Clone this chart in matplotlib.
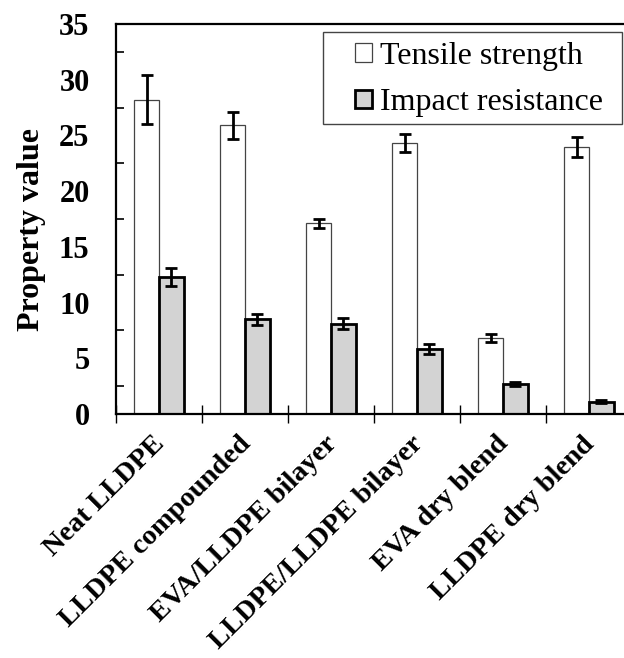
import numpy as np
import matplotlib
matplotlib.use("Agg")
import matplotlib.pyplot as plt
from matplotlib.ticker import FixedLocator, NullFormatter
from matplotlib.patches import Rectangle

plt.rcParams['font.family'] = ['Liberation Serif', 'DejaVu Serif']

samples = ["Neat LLDPE", "LLDPE compounded", "EVA/LLDPE bilayer",
           "LLDPE/LLDPE bilayer", "EVA dry blend", "LLDPE dry blend"]
tensile = [28.2, 25.9, 17.1, 24.3, 6.8, 24.0]
tensile_err = [2.2, 1.2, 0.4, 0.8, 0.35, 0.9]
impact = [12.3, 8.5, 8.1, 5.8, 2.7, 1.1]
impact_err = [0.8, 0.5, 0.5, 0.45, 0.15, 0.15]

x = np.arange(len(samples))
w = 0.29

W, H = 624, 658
fig = plt.figure(figsize=(W / 100, H / 100), dpi=100)
ax = fig.add_axes([116 / W, 1 - 414 / H, (632 - 116) / W, (414 - 24) / H])

err_kw = dict(ecolor='black', elinewidth=2.0, capsize=4, capthick=2.0)
ax.bar(x - w / 2, tensile, w, yerr=tensile_err, color='white',
       edgecolor='#444444', linewidth=0.9, error_kw=err_kw, label='Tensile strength')
ax.bar(x + w / 2, impact, w, yerr=impact_err, color='#d3d3d3',
       edgecolor='black', linewidth=2.0, error_kw=err_kw, label='Impact resistance')

ax.set_xlim(-0.5, len(samples) - 0.5)
ax.set_ylim(0, 35)

# y ticks: labels every 5, small inward marks halfway between
ax.set_yticks(np.arange(0, 36, 5))
ax.yaxis.set_minor_locator(FixedLocator(np.arange(2.5, 35, 5)))
ax.tick_params(axis='y', which='major', length=0, pad=19, labelsize=22)
ax.tick_params(axis='y', which='minor', direction='in', length=6, width=1.2)
for lab in ax.get_yticklabels():
    lab.set_fontweight('bold')

# x ticks: labels (zero-length major ticks, nudged left), separators as minor ticks
ax.set_xticks(x - 0.08)
ax.set_xticklabels(samples, rotation=45, ha='right', rotation_mode='anchor',
                   fontsize=20.5, fontweight='bold')
ax.xaxis.set_minor_locator(FixedLocator(np.arange(-0.5, len(samples), 1.0)))
ax.xaxis.set_minor_formatter(NullFormatter())
ax.tick_params(axis='x', which='major', length=0, pad=12.5)
ax.tick_params(axis='x', which='minor', direction='inout', length=13, width=1.0)

ax.set_ylabel('Property value', fontsize=23, fontweight='bold')
ax.yaxis.set_label_coords(-0.136, 0.474)

for s in ['left', 'bottom', 'top', 'right']:
    ax.spines[s].set_linewidth(1.6)

# legend without its own frame, box drawn separately
leg = ax.legend(loc='upper left', bbox_to_anchor=(355 / W, 1 - 42 / H),
                bbox_transform=fig.transFigure, borderaxespad=0, fontsize=23,
                frameon=False, handlelength=0.53, handleheight=0.53,
                handletextpad=0.25, labelspacing=0.54, borderpad=0)
fig.patches.append(Rectangle((323 / W, 1 - 124 / H), 299 / W, 92 / H,
                             transform=fig.transFigure, fill=False,
                             edgecolor='#444444', linewidth=1.0))

fig.savefig('out.png', dpi=100)
